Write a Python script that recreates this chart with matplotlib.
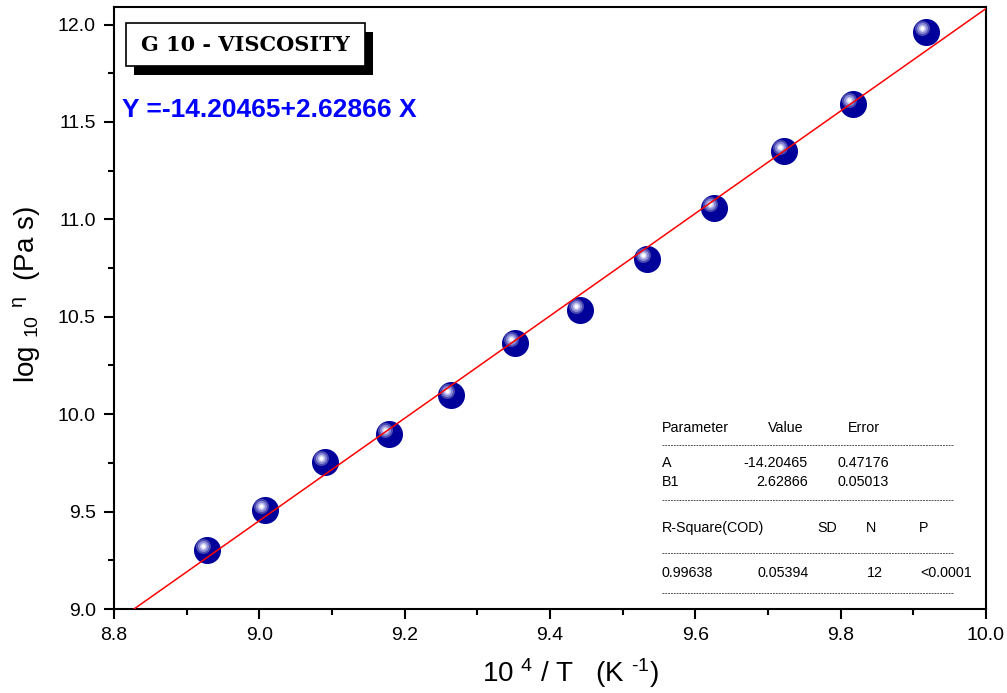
import numpy as np
import matplotlib
matplotlib.use("Agg")
import matplotlib.pyplot as plt
from matplotlib.patches import Rectangle
from matplotlib.lines import Line2D
from matplotlib.transforms import offset_copy
from matplotlib.ticker import AutoMinorLocator

# ---- data ----
x_vals = [8.928, 9.008, 9.090, 9.178, 9.264, 9.352, 9.441, 9.533, 9.626, 9.722, 9.817, 9.917]
y_vals = [9.303, 9.508, 9.755, 9.899, 10.099, 10.366, 10.536, 10.798, 11.060, 11.352, 11.594, 11.964]
fit_a = -14.20465
fit_b = 2.62866
x_ticks = [8.8, 9.0, 9.2, 9.4, 9.6, 9.8, 10.0]
y_ticks = [9.0, 9.5, 10.0, 10.5, 11.0, 11.5, 12.0]
title_text = "G 10 - VISCOSITY"
eq_text = "Y =-14.20465+2.62866 X"
table_header1 = ["Parameter", "Value", "Error"]
table_rows1 = [["A", "-14.20465", "0.47176"], ["B1", "2.62866", "0.05013"]]
table_header2 = ["R-Square(COD)", "SD", "N", "P"]
table_row2 = ["0.99638", "0.05394", "12", "<0.0001"]

plt.rcParams['font.family'] = ['Liberation Sans', 'DejaVu Sans']
plt.rcParams['mathtext.fontset'] = 'custom'
plt.rcParams['mathtext.rm'] = 'Liberation Sans'
plt.rcParams['mathtext.it'] = 'Liberation Sans:italic'
plt.rcParams['mathtext.bf'] = 'Liberation Sans:bold'

W, H = 1007, 693
fig = plt.figure(figsize=(W / 100, H / 100), dpi=100)
def fx(px): return px / W
def fy(py): return 1 - py / H

L, R, T, B = 114, 986, 7, 609
ax = fig.add_axes([fx(L), fy(B), fx(R) - fx(L), fy(T) - fy(B)])
ax.set_xlim(8.8, 10.0)
ax.set_ylim(9.0, 12.09)
ax.set_xticks(x_ticks)
ax.set_yticks(y_ticks)
ax.set_xticklabels([f"{v:.1f}" for v in x_ticks])
ax.set_yticklabels([f"{v:.1f}" for v in y_ticks])
ax.xaxis.set_minor_locator(AutoMinorLocator(2))
ax.yaxis.set_minor_locator(AutoMinorLocator(2))
ax.tick_params(which='major', direction='out', length=7, width=1.5, labelsize=14, pad=6,
               top=False, right=False)
ax.tick_params(which='minor', direction='out', length=4, width=1.5, top=False, right=False)
for s in ax.spines.values():
    s.set_linewidth(1.5)

# markers (sphere-like)
ax.scatter(x_vals, y_vals, s=27**2 * 0.52, color='#00009a', zorder=3, linewidths=0)
tr1 = offset_copy(ax.transData, fig=fig, x=-4, y=4, units='dots')
ax.scatter(x_vals, y_vals, s=15**2 * 0.52, color='#4a4ab0', zorder=4, linewidths=0, transform=tr1)
ax.scatter(x_vals, y_vals, s=11**2 * 0.52, color='#8c8cd6', zorder=5, linewidths=0, transform=tr1)
ax.scatter(x_vals, y_vals, s=7**2 * 0.52, color='#c8c8f0', zorder=5, linewidths=0, transform=tr1)
ax.scatter(x_vals, y_vals, s=4**2 * 0.52, color='white', zorder=6, linewidths=0, transform=tr1)

# fit line
xs = np.linspace(8.8, 10.0, 200)
ax.plot(xs, fit_a + fit_b * xs, color='red', lw=1.1, zorder=7)

# axis labels
fig.text(fx(570), fy(673), '10 $^{4}$ / T   (K $^{\u20101}$)', fontsize=20, ha='center', va='center')
fig.text(fx(27), fy(295), 'log $_{10}$ $^{\\mathrm{\u03b7}}$  (Pa s)', fontsize=20, ha='center', va='center',
         rotation=90)

# title box with shadow
bx0, by0, bx1, by1 = 126, 23, 365, 66
fig.patches.append(Rectangle((fx(bx0 + 8), fy(by1 + 9)), fx(bx1 - bx0), fy(by0) - fy(by1),
                             transform=fig.transFigure, facecolor='black', edgecolor='none', zorder=10))
fig.patches.append(Rectangle((fx(bx0), fy(by1)), fx(bx1 - bx0), fy(by0) - fy(by1),
                             transform=fig.transFigure, facecolor='white', edgecolor='black', lw=1.2, zorder=11))
fig.text(fx((bx0 + bx1) / 2), fy(45), title_text, fontsize=15, fontweight='bold',
         family='DejaVu Serif', ha='center', va='center', zorder=12)

# equation
fig.text(fx(122), fy(110), eq_text, fontsize=19, fontweight='bold', color='#0000ff',
         ha='left', va='center')

# stats table
fs = 10.3
def t(px, py, s, ha='left'):
    fig.text(fx(px), fy(py), s, fontsize=fs, ha=ha, va='center')
def dash(py):
    fig.lines.append(Line2D([fx(662), fx(953)], [fy(py), fy(py)], transform=fig.transFigure,
                            color='#333333', lw=0.6, linestyle=(0, (2.2, 1.2))))
t(662, 428, table_header1[0]); t(768, 428, table_header1[1]); t(848, 428, table_header1[2])
dash(445)
t(662, 463, table_rows1[0][0]); t(808, 463, table_rows1[0][1], 'right'); t(837, 463, table_rows1[0][2])
t(662, 482, table_rows1[1][0]); t(808, 482, table_rows1[1][1], 'right'); t(837, 482, table_rows1[1][2])
dash(500)
t(662, 528, table_header2[0]); t(817, 528, table_header2[1]); t(866, 528, table_header2[2]); t(919, 528, table_header2[3])
dash(553)
t(662, 573, table_row2[0]); t(758, 573, table_row2[1]); t(867, 573, table_row2[2]); t(920, 573, table_row2[3])
dash(593)

fig.savefig('out.png', dpi=100)
